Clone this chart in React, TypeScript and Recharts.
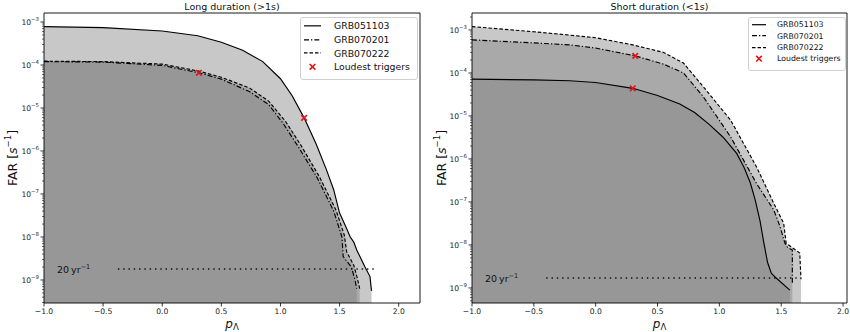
import React from 'react';
import {
  ComposedChart,
  Area,
  Line,
  Scatter,
  XAxis,
  YAxis,
  ReferenceArea,
  ReferenceDot,
  Legend,
} from 'recharts';

type Pt = { p: number; far: number };

const FONT = "'DejaVu Sans', sans-serif";

// ---------- tick labels / texts ----------
const xTicks = [-1.0, -0.5, 0.0, 0.5, 1.0, 1.5, 2.0];
const yMajorExponents = [-9, -8, -7, -6, -5, -4, -3];
const yMinorFactors = [2, 3, 4, 5, 6, 7, 8, 9];
const seriesNames = ['GRB051103', 'GRB070201', 'GRB070222'];
const markerName = 'Loudest triggers';
const titles = ['Long duration (>1s)', 'Short duration (<1s)'];

// ---------- Long duration (>1s) ----------
const long051103: Pt[] = [
  { p: -1.0, far: 7.8e-4 },
  { p: -0.5, far: 7.4e-4 },
  { p: 0.0, far: 6.2e-4 },
  { p: 0.3, far: 4.8e-4 },
  { p: 0.5, far: 3.4e-4 },
  { p: 0.68, far: 2.2e-4 },
  { p: 0.85, far: 1.2e-4 },
  { p: 1.0, far: 4.8e-5 },
  { p: 1.1, far: 1.9e-5 },
  { p: 1.2, far: 5.9e-6 },
  { p: 1.3, far: 1.5e-6 },
  { p: 1.39, far: 3.6e-7 },
  { p: 1.45, far: 1.26e-7 },
  { p: 1.5, far: 3.6e-8 },
  { p: 1.55, far: 1.8e-8 },
  { p: 1.59, far: 1.0e-8 },
  { p: 1.62, far: 7.6e-9 },
  { p: 1.645, far: 5.0e-9 },
  { p: 1.715, far: 2.0e-9 },
  { p: 1.757, far: 1.2e-9 },
  { p: 1.77, far: 5.6e-10 },
];
const long070201: Pt[] = [
  { p: -1.0, far: 1.2e-4 },
  { p: -0.5, far: 1.17e-4 },
  { p: 0.0, far: 9.8e-5 },
  { p: 0.31, far: 6.6e-5 },
  { p: 0.5, far: 4.7e-5 },
  { p: 0.74, far: 2.4e-5 },
  { p: 0.9, far: 1.2e-5 },
  { p: 1.02, far: 4.5e-6 },
  { p: 1.15, far: 1.26e-6 },
  { p: 1.31, far: 2.4e-7 },
  { p: 1.45, far: 4.0e-8 },
  { p: 1.52, far: 1.0e-8 },
  { p: 1.53, far: 3.5e-9 },
  { p: 1.6, far: 2.0e-9 },
  { p: 1.63, far: 1.0e-9 },
  { p: 1.645, far: 6.3e-10 },
];
const long070222: Pt[] = [
  { p: -1.0, far: 1.23e-4 },
  { p: -0.5, far: 1.2e-4 },
  { p: 0.0, far: 1.05e-4 },
  { p: 0.31, far: 7.2e-5 },
  { p: 0.5, far: 5.2e-5 },
  { p: 0.74, far: 2.9e-5 },
  { p: 0.9, far: 1.45e-5 },
  { p: 1.04, far: 5.0e-6 },
  { p: 1.17, far: 1.4e-6 },
  { p: 1.33, far: 2.5e-7 },
  { p: 1.47, far: 4.2e-8 },
  { p: 1.54, far: 1.1e-8 },
  { p: 1.56, far: 4.5e-9 },
  { p: 1.62, far: 2.2e-9 },
  { p: 1.65, far: 1.1e-9 },
  { p: 1.67, far: 6.3e-10 },
];
const longLoudest: Pt[] = [
  { p: 1.2, far: 5.9e-6 },
  { p: 0.31, far: 6.6e-5 },
];
const longThreshold: Pt[] = [
  { p: -0.375, far: 1.8e-9 },
  { p: 1.79, far: 1.8e-9 },
];

// ---------- Short duration (<1s) ----------
const short051103: Pt[] = [
  { p: -1.0, far: 7.2e-5 },
  { p: -0.5, far: 6.9e-5 },
  { p: -0.21, far: 6.6e-5 },
  { p: 0.0, far: 6.0e-5 },
  { p: 0.3, far: 4.4e-5 },
  { p: 0.5, far: 3.0e-5 },
  { p: 0.68, far: 1.9e-5 },
  { p: 0.8, far: 1.2e-5 },
  { p: 0.92, far: 6.3e-6 },
  { p: 1.03, far: 3.2e-6 },
  { p: 1.14, far: 1.35e-6 },
  { p: 1.2, far: 6.3e-7 },
  { p: 1.25, far: 2.8e-7 },
  { p: 1.29, far: 1.1e-7 },
  { p: 1.33, far: 3.5e-8 },
  { p: 1.36, far: 1.1e-8 },
  { p: 1.39, far: 3.9e-9 },
  { p: 1.42, far: 2.2e-9 },
  { p: 1.45, far: 1.8e-9 },
  { p: 1.57, far: 8.9e-10 },
];
const short070201: Pt[] = [
  { p: -1.0, far: 5.9e-4 },
  { p: -0.5, far: 5.0e-4 },
  { p: -0.21, far: 4.5e-4 },
  { p: 0.0, far: 3.8e-4 },
  { p: 0.32, far: 2.5e-4 },
  { p: 0.55, far: 1.6e-4 },
  { p: 0.71, far: 1.0e-4 },
  { p: 0.87, far: 2.8e-5 },
  { p: 1.09, far: 3.3e-6 },
  { p: 1.3, far: 2.7e-7 },
  { p: 1.44, far: 6.5e-8 },
  { p: 1.49, far: 2.7e-8 },
  { p: 1.53, far: 1.1e-8 },
  { p: 1.55, far: 8.9e-9 },
  { p: 1.59, far: 7.6e-9 },
  { p: 1.59, far: 1.3e-9 },
];
const short070222: Pt[] = [
  { p: -1.0, far: 1.2e-3 },
  { p: -0.5, far: 9.1e-4 },
  { p: -0.21, far: 7.6e-4 },
  { p: 0.0, far: 6.6e-4 },
  { p: 0.3, far: 4.5e-4 },
  { p: 0.55, far: 3.0e-4 },
  { p: 0.71, far: 1.7e-4 },
  { p: 0.87, far: 4.8e-5 },
  { p: 1.09, far: 8.1e-6 },
  { p: 1.3, far: 6.6e-7 },
  { p: 1.44, far: 9.3e-8 },
  { p: 1.52, far: 3.2e-8 },
  { p: 1.54, far: 1.1e-8 },
  { p: 1.65, far: 6.5e-9 },
  { p: 1.66, far: 1.6e-9 },
];
const shortLoudest: Pt[] = [
  { p: 0.32, far: 2.5e-4 },
  { p: 0.3, far: 4.4e-5 },
];
const shortThreshold: Pt[] = [
  { p: -0.4, far: 1.7e-9 },
  { p: 1.65, far: 1.7e-9 },
];

// ---------- helpers ----------
const dashes = ['', '5 2 1.3 2', '3.5 2'];

function buildLogTicks(min: number, max: number): number[] {
  const out: number[] = [];
  for (let e = -11; e <= -1; e++) {
    const base = Math.pow(10, e);
    if (base >= min && base <= max) out.push(base);
    for (const f of yMinorFactors) {
      const v = f * base;
      if (v >= min && v <= max) out.push(v);
    }
  }
  return out;
}

const fmtX = (v: number) => v.toFixed(1).replace('-', '\u2212');

const YTick = (props: any) => {
  const { x, y, payload } = props;
  const v = payload.value as number;
  const lg = Math.log10(v);
  const e = Math.round(lg);
  const major = Math.abs(lg - e) < 1e-6 && yMajorExponents.includes(e);
  return (
    <g>
      <line
        x1={x}
        x2={x - (major ? 3.5 : 2)}
        y1={y}
        y2={y}
        stroke="#000"
        strokeWidth={major ? 0.8 : 0.6}
      />
      {major && (
        <text
          x={x - 5}
          y={y + 3}
          textAnchor="end"
          fontSize={7.6}
          fill="#222"
          fontFamily={FONT}
        >
          <tspan>10</tspan>
          <tspan dy={-3.8} fontSize={5.4}>
            {'\u2212' + String(-e)}
          </tspan>
        </text>
      )}
    </g>
  );
};

const XMark = (props: any) => {
  const { cx, cy } = props;
  const s = 2.8;
  return (
    <g stroke="#e0141c" strokeWidth={1.6}>
      <line x1={cx - s} y1={cy - s} x2={cx + s} y2={cy + s} />
      <line x1={cx - s} y1={cy + s} x2={cx + s} y2={cy - s} />
    </g>
  );
};

type LegendCfg = { left: number; top: number; width: number; fontSize: number; rowH: number; textX: number; sample: number };

const LegendBox = ({ cfg }: { cfg: LegendCfg }) => (
  <div
    style={{
      border: '1px solid #d0d0d0',
      borderRadius: 3,
      background: 'rgba(255,255,255,0.85)',
      width: cfg.width,
      padding: '1px 0 5px 0',
      fontFamily: FONT,
      fontSize: cfg.fontSize,
      color: '#111',
      boxSizing: 'border-box',
    }}
  >
    {[...seriesNames, markerName].map((name, i) => (
      <div key={name} style={{ height: cfg.rowH, position: 'relative', display: 'flex', alignItems: 'center' }}>
        <svg width={cfg.textX} height={cfg.rowH} style={{ flex: 'none' }}>
          {i < 3 ? (
            <line
              x1={3}
              x2={3 + cfg.sample}
              y1={cfg.rowH / 2}
              y2={cfg.rowH / 2}
              stroke="#000"
              strokeWidth={1.2}
              strokeDasharray={dashes[i] || undefined}
            />
          ) : (
            <XMark cx={3 + cfg.sample / 2} cy={cfg.rowH / 2} />
          )}
        </svg>
        <span style={{ whiteSpace: 'nowrap' }}>{name}</span>
      </div>
    ))}
  </div>
);

type PanelCfg = {
  title: string;
  series: Pt[][];
  loudest: Pt[];
  threshold: Pt[];
  thresholdTextP: number;
  xDomain: [number, number];
  yDomain: [number, number];
  yWidth: number;
  marginRight: number;
  yLabelX: number;
  legend: LegendCfg;
};

const panels: PanelCfg[] = [
  {
    title: titles[0],
    series: [long051103, long070201, long070222],
    loudest: longLoudest,
    threshold: longThreshold,
    thresholdTextP: -0.89,
    xDomain: [-1, 2.18],
    yDomain: [Math.pow(10, -9.535), Math.pow(10, -2.79)],
    yWidth: 44,
    marginRight: 5,
    yLabelX: 12,
    legend: { left: 300, top: 17, width: 118, fontSize: 9.3, rowH: 13.7, textX: 33, sample: 17 },
  },
  {
    title: titles[1],
    series: [short051103, short070201, short070222],
    loudest: shortLoudest,
    threshold: shortThreshold,
    thresholdTextP: -0.895,
    xDomain: [-1, 2.032],
    yDomain: [Math.pow(10, -9.35), Math.pow(10, -2.605)],
    yWidth: 47,
    marginRight: 3,
    yLabelX: 16,
    legend: { left: 323, top: 17, width: 98, fontSize: 7.8, rowH: 11.4, textX: 28, sample: 14 },
  },
];

const Panel = ({ cfg }: { cfg: PanelCfg }) => {
  const yTicks = buildLogTicks(cfg.yDomain[0], cfg.yDomain[1]);
  const thrY = cfg.threshold[0].far;
  return (
    <ComposedChart
      width={425}
      height={332}
      margin={{ top: 13, right: cfg.marginRight, bottom: 0, left: 0 }}
    >
      <XAxis
        type="number"
        dataKey="p"
        domain={cfg.xDomain}
        allowDataOverflow
        ticks={xTicks}
        interval={0}
        tickFormatter={fmtX}
        tickSize={3.5}
        tickMargin={2}
        axisLine={false}
        tickLine={{ stroke: '#000', strokeWidth: 0.8 }}
        tick={{ fontSize: 7.6, fill: '#222', fontFamily: FONT }}
        height={29}
        label={(p: any) => {
          const vb = p.viewBox;
          const cx = vb.x + vb.width / 2;
          const y = vb.y + 24.5;
          return (
            <text x={cx} y={y} textAnchor="middle" fontFamily={FONT} fill="#111">
              <tspan fontSize={12} fontStyle="italic">p</tspan>
              <tspan fontSize={8.5} dy={2.5}>Λ</tspan>
            </text>
          );
        }}
      />
      <YAxis
        type="number"
        dataKey="far"
        scale="log"
        domain={cfg.yDomain}
        allowDataOverflow
        ticks={yTicks}
        interval={0}
        tick={<YTick />}
        tickLine={false}
        axisLine={false}
        tickSize={0}
        tickMargin={0}
        width={cfg.yWidth}
        label={(p: any) => {
          const vb = p.viewBox;
          const cx = cfg.yLabelX;
          const cy = vb.y + vb.height / 2;
          return (
            <text
              x={cx}
              y={cy}
              transform={`rotate(-90, ${cx}, ${cy})`}
              textAnchor="middle"
              dominantBaseline="central"
              fontFamily={FONT}
              fontSize={12.5}
              fill="#111"
            >
              <tspan>FAR [</tspan>
              <tspan fontStyle="italic">s</tspan>
              <tspan dy={-4.5} fontSize={8.5}>{'\u22121'}</tspan>
              <tspan dy={4.5}>]</tspan>
            </text>
          );
        }}
      />
      {cfg.series.map((d, i) => (
        <Area
          key={'area' + i}
          data={d}
          dataKey="far"
          type="linear"
          stroke="none"
          fill="#808080"
          fillOpacity={0.43}
          baseValue="dataMin"
          isAnimationActive={false}
          legendType="none"
        />
      ))}
      <Line
        data={cfg.threshold}
        dataKey="far"
        type="linear"
        stroke="#111"
        strokeWidth={1.4}
        strokeDasharray="1.4 3.9"
        dot={false}
        isAnimationActive={false}
        legendType="none"
      />
      {cfg.series.map((d, i) => (
        <Line
          key={'line' + i}
          data={d}
          dataKey="far"
          type="linear"
          stroke="#000"
          strokeWidth={1.15}
          strokeDasharray={dashes[i] || undefined}
          dot={false}
          isAnimationActive={false}
          name={seriesNames[i]}
        />
      ))}
      <Scatter
        data={cfg.loudest}
        dataKey="far"
        shape={<XMark />}
        isAnimationActive={false}
        name={markerName}
      />
      <ReferenceDot
        x={cfg.thresholdTextP}
        y={thrY}
        r={0}
        shape={(p: any) => (
          <text x={p.cx} y={p.cy + 3.5} fontFamily={FONT} fontSize={9.5} fill="#111">
            <tspan>20</tspan>
            <tspan dx={2}>yr</tspan>
            <tspan dy={-4} fontSize={6.5}>{'\u22121'}</tspan>
          </text>
        )}
      />
      <ReferenceArea
        x1={cfg.xDomain[0]}
        x2={cfg.xDomain[1]}
        y1={cfg.yDomain[0]}
        y2={cfg.yDomain[1]}
        fill="none"
        fillOpacity={0}
        stroke="#000"
        strokeWidth={0.9}
        ifOverflow="visible"
        label={{
          value: cfg.title,
          position: 'top',
          offset: 3,
          fontSize: 9.5,
          fill: '#111',
          fontFamily: FONT,
        }}
      />
      <Legend
        layout="horizontal"
        verticalAlign="middle"
        align="center"
        wrapperStyle={{ left: cfg.legend.left, top: cfg.legend.top, width: 'auto', height: 'auto' }}
        content={() => <LegendBox cfg={cfg.legend} />}
      />
    </ComposedChart>
  );
};

export default function App() {
  return (
    <div
      style={{
        position: 'fixed',
        left: 0,
        top: 0,
        width: 850,
        height: 332,
        background: '#fff',
        fontFamily: FONT,
        overflow: 'hidden',
      }}
    >
      <div style={{ position: 'absolute', left: 0, top: 0 }}>
        <Panel cfg={panels[0]} />
      </div>
      <div style={{ position: 'absolute', left: 425, top: 0 }}>
        <Panel cfg={panels[1]} />
      </div>
    </div>
  );
}
